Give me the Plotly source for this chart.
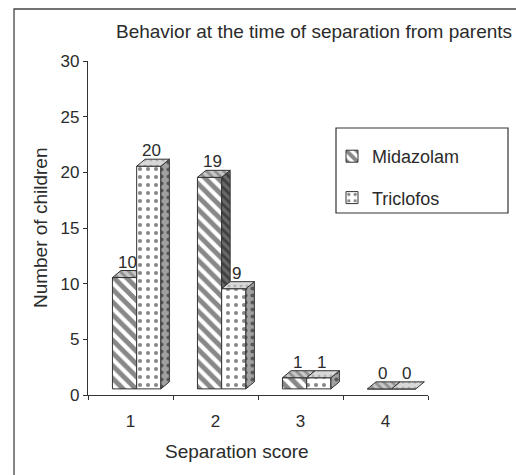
import plotly.graph_objects as go

# ---- data ----
categories = [1, 2, 3, 4]
tick_labels = ["1", "2", "3", "4"]
midazolam = [10, 19, 1, 0]
triclofos = [20, 9, 1, 0]
series_names = ["Midazolam", "Triclofos"]
y_ticks = [0, 5, 10, 15, 20, 25, 30]
title_text = "Behavior at the time of separation from parents"
x_title = "Separation score"
y_title = "Number of children"

# ---- 3-D look (style, not data) ----
BASE = 0.55      # floor elevation
DX = 0.10        # depth offset in x units
DY = 0.63        # depth offset in y units
W = 0.285        # bar width
OFF_M = -0.2125  # left edge of Midazolam bar relative to category
OFF_T = 0.0725   # left edge of Triclofos bar relative to category
EDGE = "#333333"
FONT = "Liberation Sans, Arial, sans-serif"
TXT = "#2b2b2b"

fig = go.Figure()

fig.add_trace(go.Bar(
    x=categories, y=midazolam, base=BASE, offset=OFF_M, width=W,
    name=series_names[0], legendgroup="m",
    marker=dict(color="white", line=dict(color=EDGE, width=1),
                pattern=dict(shape="\\", fgcolor="#111111", bgcolor="white",
                             size=9, solidity=0.55)),
    hoverinfo="x+y"))
fig.add_trace(go.Bar(
    x=categories, y=triclofos, base=BASE, offset=OFF_T, width=W,
    name=series_names[1], legendgroup="t",
    marker=dict(color="white", line=dict(color=EDGE, width=1),
                pattern=dict(shape=".", fgcolor="#111111", bgcolor="white",
                             size=8, solidity=0.22)),
    hoverinfo="x+y"))


def poly(xs, ys, fill, pattern=None):
    fig.add_trace(go.Scatter(
        x=xs + [xs[0]], y=ys + [ys[0]], mode="lines", fill="toself",
        fillcolor=fill, line=dict(color=EDGE, width=1),
        fillpattern=pattern, showlegend=False, hoverinfo="skip"))


pat_m_side = dict(shape="\\", fgcolor="#111111", bgcolor="#6a6a6a", size=6, solidity=0.45)
pat_m_top = dict(shape="\\", fgcolor="#555555", bgcolor="#c8c8c8", size=6, solidity=0.45)
pat_t_side = dict(shape=".", fgcolor="#111111", bgcolor="#a0a0a0", size=7, solidity=0.28)
pat_t_top = dict(shape=".", fgcolor="#888888", bgcolor="#d8d8d8", size=6, solidity=0.2)

for c, vm, vt in zip(categories, midazolam, triclofos):
    # Midazolam faces
    x0 = c + OFF_M
    x1 = x0 + W
    t = BASE + vm
    if vm > vt:
        lo = BASE + vt
        poly([x1, x1 + DX, x1 + DX, x1], [lo, lo + DY, t + DY, t], "#6a6a6a", pat_m_side)
    if vt > vm:
        h = BASE + vt
        if h >= t + DY:
            poly([x0, x1, x1, x0 + DX], [t, t, t + DY, t + DY], "#c8c8c8", pat_m_top)
        else:
            xa = x1 + (h - t) / DY * DX
            poly([x0, x1, x1, xa, x1 + DX, x0 + DX],
                 [t, t, h, h, t + DY, t + DY], "#c8c8c8", pat_m_top)
    else:
        poly([x0, x1, x1 + DX, x0 + DX], [t, t, t + DY, t + DY], "#c8c8c8", pat_m_top)
    # Triclofos faces
    x0 = c + OFF_T
    x1 = x0 + W
    t = BASE + vt
    if vt > 0:
        poly([x1, x1 + DX, x1 + DX, x1], [BASE, BASE + DY, t + DY, t], "#a0a0a0", pat_t_side)
    poly([x0, x1, x1 + DX, x0 + DX], [t, t, t + DY, t + DY], "#d8d8d8", pat_t_top)

# value labels
annotations = []
for c, vm, vt in zip(categories, midazolam, triclofos):
    for off, v in ((OFF_M, vm), (OFF_T, vt)):
        annotations.append(dict(
            x=c + off + W / 2 + DX / 3, y=BASE + v + DY, xref="x", yref="y",
            text=str(v), showarrow=False, yanchor="bottom", xanchor="center",
            yshift=-3, font=dict(size=17, color=TXT, family=FONT)))

# titles (paper coords)
annotations += [
    dict(x=0.665, y=1.0898, xref="paper", yref="paper", text=title_text,
         showarrow=False, xanchor="center", yanchor="middle",
         font=dict(size=19, color=TXT, family=FONT)),
    dict(x=0.438, y=-0.1677, xref="paper", yref="paper", text=x_title,
         showarrow=False, xanchor="center", yanchor="middle",
         font=dict(size=19, color=TXT, family=FONT)),
    dict(x=-0.141, y=0.5, xref="paper", yref="paper", text=y_title,
         showarrow=False, xanchor="center", yanchor="middle", textangle=-90,
         font=dict(size=19, color=TXT, family=FONT)),
]

boundaries = [c - 0.5 for c in categories] + [categories[-1] + 0.5]

shapes = [
    # outer frame (only left/top visible in reference)
    dict(type="rect", xref="paper", yref="paper",
         x0=-0.2176, x1=1.6, y0=-0.6, y1=1.1557,
         line=dict(color="#444444", width=1.3), layer="below"),
    # legend box
    dict(type="rect", xref="paper", yref="paper",
         x0=(336 - 88) / 340, x1=(508 - 88) / 340,
         y0=(395 - 213) / 334, y1=(395 - 128) / 334,
         line=dict(color="#333333", width=1.2), fillcolor="white", layer="above"),
]

fig.update_layout(
    width=516, height=475,
    margin=dict(l=88, r=88, t=61, b=80, autoexpand=False),
    paper_bgcolor="white", plot_bgcolor="white",
    barmode="overlay",
    font=dict(family=FONT, color=TXT, size=17),
    showlegend=True,
    legend=dict(x=(332 - 88) / 340, y=(395 - 138) / 334, xanchor="left", yanchor="top",
                bgcolor="rgba(0,0,0,0)", borderwidth=0,
                font=dict(size=18, color=TXT, family=FONT),
                tracegroupgap=15, traceorder="grouped"),
    annotations=annotations,
    shapes=shapes,
    xaxis=dict(range=[0.5, 4.5], tickmode="array", tickvals=categories,
               ticktext=tick_labels, ticks="", ticklabelstandoff=10,
               showline=True, linecolor="#333333", linewidth=1.2,
               showgrid=False, zeroline=False,
               tickfont=dict(size=17, color=TXT, family=FONT),
               minor=dict(tickmode="array", tickvals=boundaries, ticks="outside",
                          ticklen=4, tickcolor="#333333", tickwidth=1.2, showgrid=False)),
    yaxis=dict(range=[0, 30], tickmode="array", tickvals=y_ticks,
               ticks="outside", ticklen=4, tickcolor="#333333", tickwidth=1.2,
               showline=True, linecolor="#333333", linewidth=1.2,
               showgrid=False, zeroline=False,
               tickfont=dict(size=17, color=TXT, family=FONT)),
)

fig.write_html("out.html", config={"displayModeBar": False},
               post_script="document.body.style.margin='0';document.body.style.padding='0';")
